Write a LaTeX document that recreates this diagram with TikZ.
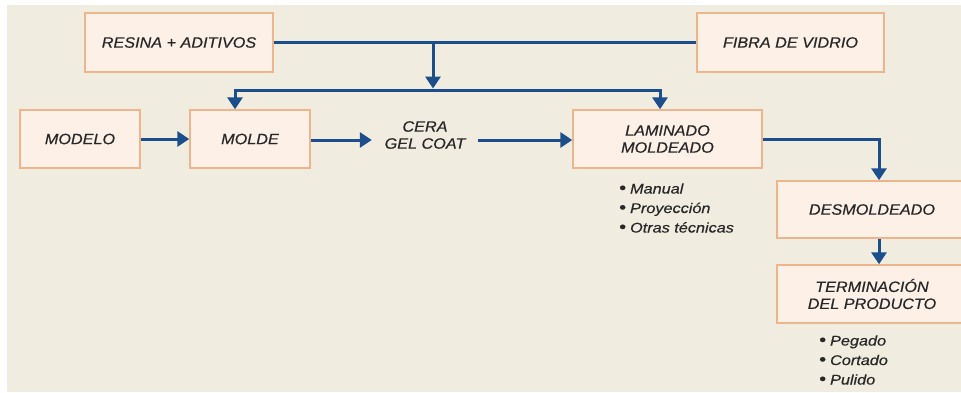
\documentclass[tikz,border=0pt]{standalone}
\usepackage{fontspec}
\setmainfont{Liberation Sans}
\newfontfamily\boxfont[FakeStretch=1.08,FakeBold=0.6]{Liberation Sans}
\newfontfamily\listfont[FakeStretch=1.16,FakeBold=0.5]{Liberation Sans}
\usetikzlibrary{arrows.meta}
\definecolor{bgbeige}{RGB}{240,237,224}
\definecolor{boxfill}{RGB}{252,240,231}
\definecolor{boxline}{RGB}{238,180,140}
\definecolor{flowblue}{RGB}{28,78,140}
\definecolor{txt}{RGB}{40,40,40}
\tikzset{
  box/.style={draw=boxline, fill=boxfill, line width=1.5pt, rectangle,
    inner sep=0pt, align=center, text=txt,
    font=\boxfont\fontsize{15}{17}\selectfont\itshape},
  flow/.style={draw=flowblue, line width=3pt},
  arrowflow/.style={flow, -{Triangle[length=12pt,width=15pt]}},
  plain/.style={text=txt, align=center, inner sep=0pt,
    font=\boxfont\fontsize{15}{17}\selectfont\itshape},
  bullets/.style={text=txt, align=left, inner sep=0pt, anchor=west,
    font=\listfont\fontsize{14}{19.5}\selectfont\itshape},
}
% list bullet, a little larger than the text's own
\newcommand{\itm}{{\upshape\fontsize{17}{19.5}\selectfont\textbullet}\hspace{4pt}}
\begin{document}
\begin{tikzpicture}[x=1pt,y=-1pt]
  \useasboundingbox (0,0) rectangle (961,392);
  \clip (0,0) rectangle (961,392);
  \fill[white] (0,0) rectangle (961,392);
  \fill[bgbeige] (7,5) rectangle (961,392);

  % process boxes
  \node[box, minimum width=188pt, minimum height=59pt] (resina) at (179,42.5) {RESINA + ADITIVOS};
  \node[box, minimum width=187pt, minimum height=59pt] (fibra) at (790.5,42.5) {FIBRA DE VIDRIO};
  \node[box, minimum width=120pt, minimum height=58pt] (modelo) at (80,139) {MODELO};
  \node[box, minimum width=120pt, minimum height=58pt] (molde) at (250,139) {MOLDE};
  \node[plain, minimum width=106pt] (cera) at (425,135) {CERA\\GEL COAT};
  \node[box, minimum width=189pt, minimum height=58pt] (laminado) at (667.5,139) {LAMINADO\\MOLDEADO};
  \node[box, minimum width=190pt, minimum height=57pt] (desmold) at (872,209.5) {DESMOLDEADO};
  \node[box, minimum width=190pt, minimum height=58pt] (termin) at (872,294) {TERMINACIÓN\\DEL PRODUCTO};

  % technique lists
  \node[bullets] (tecnicas) at (619,208) {\itm Manual\\\itm Proyección\\\itm Otras técnicas};
  \node[bullets] (acabado) at (819,360) {\itm Pegado\\\itm Cortado\\\itm Pulido};

  % material feed
  \coordinate (join) at (433,42.5);
  \coordinate (split) at (433,90);
  \draw[flow] (resina.east) -- (fibra.west);
  \draw[arrowflow, shorten >=1.5pt] (join) -- (split);
  \draw[arrowflow] (split) -| ([xshift=-15pt]molde.north);
  \draw[arrowflow] (split) -| ([xshift=-7.5pt]laminado.north);

  % main sequence
  \draw[arrowflow] (modelo.east) -- (molde.west);
  \draw[arrowflow] (molde.east |- 0,140) -- (cera.west |- 0,140);
  \draw[arrowflow] (cera.east |- 0,140) -- (laminado.west |- 0,140);
  \draw[arrowflow] (laminado.east) -| ([xshift=7pt]desmold.north);
  \draw[arrowflow] ([xshift=7pt]desmold.south) -- ([xshift=7pt]termin.north);
\end{tikzpicture}
\end{document}
